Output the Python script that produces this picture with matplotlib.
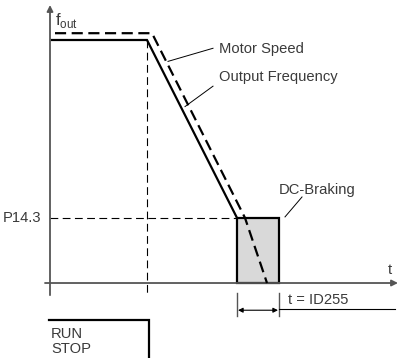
import matplotlib
matplotlib.use("Agg")
import matplotlib.pyplot as plt
from matplotlib.patches import Rectangle

# time axis (arbitrary units) and frequency axis (Hz)
OUT_T = [0.2, 9.7, 18.7]          # output frequency: run, stop command, reaches P14.3
OUT_F = [50.0, 50.0, 13.4]
MOTOR_T = [0.5, 10.2, 19.5, 21.7]  # motor speed lags the output frequency
MOTOR_F = [51.4, 51.4, 13.4, 0.0]
STOP_T = 9.7
P14_3 = 13.4
BRAKE_START = 18.7
BRAKE_END = 22.9

TXT = "#3a3a3a"
AX = "#555555"
FS = 10.6
plt.rcParams["font.family"] = ["Liberation Sans", "DejaVu Sans"]

fig = plt.figure(figsize=(4.02, 3.58), dpi=100)
ax = fig.add_axes([0, 0, 1, 1])
ax.set_xlim(-5.0, 35.2)
ax.set_ylim(-15.43, 58.23)
ax.axis("off")

# axes with arrow heads
ax.annotate("", xy=(34.8, 0), xytext=(-0.5, 0),
            arrowprops=dict(arrowstyle="-|>", color=AX, lw=1.3, mutation_scale=9, shrinkA=0, shrinkB=0))
ax.annotate("", xy=(0, 57.2), xytext=(0, -2.5),
            arrowprops=dict(arrowstyle="-|>", color=AX, lw=1.3, mutation_scale=9, shrinkA=0, shrinkB=0))
ax.text(0.5, 54.0, r"f$_\mathregular{out}$", fontsize=12, color=TXT, va="center")
ax.text(34.0, 2.7, "t", fontsize=FS, color=TXT, ha="center", va="center")

# DC braking window
ax.add_patch(Rectangle((BRAKE_START, 0), BRAKE_END - BRAKE_START, P14_3,
                       facecolor="#d9d9d9", edgecolor="black", lw=1.6, zorder=2))

# helper dashed lines
ax.plot([0, BRAKE_START], [P14_3, P14_3], color="black", lw=0.8, ls=(0, (7, 4)), zorder=1)
ax.plot([STOP_T, STOP_T], [OUT_F[1], -2.6], color="black", lw=0.8, ls=(0, (7, 4)), zorder=1)

# output frequency and motor speed
ax.plot(OUT_T, OUT_F, color="black", lw=1.6, solid_joinstyle="miter", zorder=3)
ax.plot(MOTOR_T, MOTOR_F, color="black", lw=1.6, ls=(0, (5, 2.5)), zorder=3)

ax.text(16.9, 48.1, "Motor Speed", fontsize=FS, color=TXT, va="center")
ax.plot([16.3, 11.8], [48.3, 45.6], color="black", lw=0.7)
ax.text(16.9, 42.3, "Output Frequency", fontsize=FS, color=TXT, va="center")
ax.plot([16.3, 13.5], [40.5, 36.3], color="black", lw=0.7)
ax.text(22.9, 19.1, "DC-Braking", fontsize=FS, color=TXT, va="center")
ax.plot([25.2, 23.5], [17.7, 13.6], color="black", lw=0.7)

ax.text(-4.7, P14_3, "P14.3", fontsize=FS, color=TXT, va="center")

# braking time dimension
for tx in (BRAKE_START, BRAKE_END):
    ax.plot([tx, tx], [-2.0, -6.8], color=AX, lw=1.0)
ax.annotate("", xy=(BRAKE_START + 0.1, -5.6), xytext=(BRAKE_END - 0.1, -5.6),
            arrowprops=dict(arrowstyle="<|-|>", color="black", lw=0.8, mutation_scale=7, shrinkA=0, shrinkB=0))
ax.plot([BRAKE_END, 34.5], [-5.3, -5.3], color="black", lw=0.8)
ax.text(23.8, -3.5, "t = ID255", fontsize=FS, color=TXT, va="center")

# run / stop signal
ax.plot([-0.1, STOP_T + 0.2, STOP_T + 0.2], [-7.6, -7.6, -15.5], color="black", lw=1.6,
        solid_joinstyle="miter")
ax.text(0.1, -10.4, "RUN", fontsize=FS, color=TXT, va="center")
ax.text(0.1, -13.6, "STOP", fontsize=FS, color=TXT, va="center")

fig.savefig("out.png", dpi=100)
